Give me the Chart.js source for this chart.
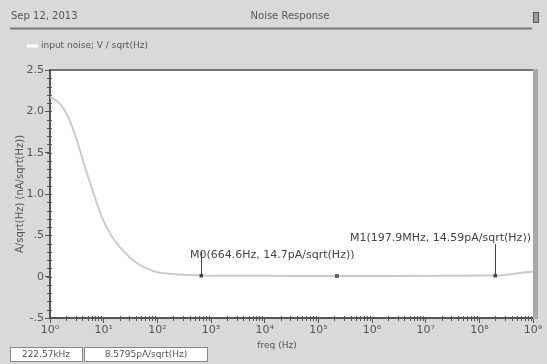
<!DOCTYPE html>
<html>
<head>
<meta charset="utf-8">
<script src="https://cdn.jsdelivr.net/npm/chart.js@4.4.1/dist/chart.umd.min.js"></script>
<style>
  html, body { margin: 0; padding: 0; background: #d9d9d9; }
  #wrap { width: 547px; height: 364px; }
</style>
</head>
<body>
<div id="wrap"><canvas id="myChart" width="547" height="364"></canvas></div>
<script>
// frequency (Hz) and input noise (nA/sqrt(Hz))
var freqHz = [1, 1.1, 1.55, 2.19, 3.16, 4.47, 6.46, 9.12, 14.1, 25.1, 38, 91, 138, 300, 664.6, 3000, 30000, 222570, 2e6, 2e7, 1e8, 1.979e8, 4e8, 1e9];
var noise = [2.17, 2.16, 2.09, 1.93, 1.65, 1.33, 1.01, 0.73, 0.49, 0.29, 0.18, 0.06, 0.04, 0.022, 0.0147, 0.011, 0.0093, 0.0086, 0.0092, 0.011, 0.013, 0.0146, 0.03, 0.064];

var xTicks = [1, 10, 100, 1e3, 1e4, 1e5, 1e6, 1e7, 1e8, 1e9];
var yTicks = [-0.5, 0, 0.5, 1.0, 1.5, 2.0, 2.5];

// markers: M0, M1 and the cursor point
var markerFreq = [664.6, 1.979e8];
var markerVal = [0.0147, 0.01459];
var markerText = ["M0(664.6Hz, 14.7pA/sqrt(Hz))", "M1(197.9MHz, 14.59pA/sqrt(Hz))"];
var cursorFreq = 222570;
var cursorVal = 0.0086;
var cursorText = ["222.57kHz", "8.5795pA/sqrt(Hz)"];

var sup = "⁰¹²³⁴⁵⁶⁷⁸⁹";
var FONT = "'DejaVu Sans', sans-serif";

var decorPlugin = {
  id: 'decor',
  beforeDraw: function(chart) {
    var c = chart.ctx;
    c.save();
    c.fillStyle = '#d9d9d9';
    c.fillRect(0, 0, chart.width, chart.height);
    var a = chart.chartArea;
    c.fillStyle = '#ffffff';
    c.fillRect(a.left, a.top, a.right - a.left, a.bottom - a.top);
    c.restore();
  },
  afterDraw: function(chart) {
    var c = chart.ctx;
    var a = chart.chartArea;
    var xs = chart.scales.x, ys = chart.scales.y;
    c.save();

    // header
    c.fillStyle = '#555';
    c.font = "10px " + FONT;
    c.textBaseline = 'middle';
    c.textAlign = 'left';
    c.fillText("Sep 12, 2013", 11, 16);
    c.textAlign = 'center';
    c.fillText("Noise Response", 290, 16);
    c.strokeStyle = '#777';
    c.lineWidth = 2;
    c.beginPath(); c.moveTo(10, 28.5); c.lineTo(532, 28.5); c.stroke();
    c.strokeStyle = '#555';
    c.lineWidth = 1;
    c.strokeRect(533.5, 12.5, 5, 10);
    c.fillStyle = '#999';
    c.fillRect(534, 13, 4, 9);

    // legend
    c.strokeStyle = '#ffffff';
    c.lineWidth = 3;
    c.beginPath(); c.moveTo(27, 46); c.lineTo(38, 46); c.stroke();
    c.fillStyle = '#555';
    c.font = "9px " + FONT;
    c.textAlign = 'left';
    c.fillText("input noise; V / sqrt(Hz)", 41, 46);

    // top border and right band of the plot
    c.strokeStyle = '#777';
    c.lineWidth = 2;
    c.beginPath(); c.moveTo(a.left, a.top); c.lineTo(a.right, a.top); c.stroke();
    c.fillStyle = '#a9a9a9';
    c.fillRect(a.right, a.top - 1, 5, a.bottom - a.top + 2);

    // minor ticks
    c.strokeStyle = '#555';
    c.lineWidth = 1;
    c.beginPath();
    for (var v = -0.5; v <= 2.5001; v += 0.1) {
      var py = Math.round(ys.getPixelForValue(v)) + 0.5;
      c.moveTo(a.left - 3, py); c.lineTo(a.left + 2, py);
    }
    for (var d = 0; d < 9; d++) {
      for (var m = 2; m <= 9; m++) {
        var px = Math.round(xs.getPixelForValue(m * Math.pow(10, d))) + 0.5;
        c.moveTo(px, a.bottom - 2); c.lineTo(px, a.bottom + 3);
      }
    }
    c.stroke();

    // x title
    c.fillStyle = '#555';
    c.font = "9px " + FONT;
    c.textAlign = 'center';
    c.fillText("freq (Hz)", 277, 346);

    // markers
    c.font = "11px " + FONT;
    c.textAlign = 'left';
    var lineTop = [252, 244];
    var textX = [190, 350];
    var textY = [255, 238];
    for (var i = 0; i < markerFreq.length; i++) {
      var mx = Math.round(xs.getPixelForValue(markerFreq[i])) + 0.5;
      var my = ys.getPixelForValue(markerVal[i]);
      c.strokeStyle = '#444';
      c.lineWidth = 1;
      c.beginPath(); c.moveTo(mx, my); c.lineTo(mx, lineTop[i]); c.stroke();
      c.fillStyle = '#444';
      c.fillRect(mx - 2, my - 1.5, 3.5, 3.5);
      c.fillText(markerText[i], textX[i], textY[i]);
    }
    var cx = xs.getPixelForValue(cursorFreq), cy = ys.getPixelForValue(cursorVal);
    c.fillStyle = '#666';
    c.fillRect(cx - 2, cy - 2, 4, 4);

    // cursor readout boxes
    c.fillStyle = '#ffffff';
    c.strokeStyle = '#888';
    c.lineWidth = 1;
    c.fillRect(10, 347, 73, 15); c.strokeRect(10.5, 347.5, 72, 14);
    c.fillRect(84, 347, 124, 15); c.strokeRect(84.5, 347.5, 123, 14);
    c.fillStyle = '#555';
    c.font = "9px " + FONT;
    c.textAlign = 'center';
    c.fillText(cursorText[0], 46, 355);
    c.fillText(cursorText[1], 146, 355);
    c.restore();
  }
};

function init() {
  var points = [];
  for (var i = 0; i < freqHz.length; i++) points.push({ x: freqHz[i], y: noise[i] });

  var ctx = document.getElementById('myChart').getContext('2d');
  var chart = new Chart(ctx, {
    type: 'line',
    data: {
      datasets: [{
        label: 'input noise; V / sqrt(Hz)',
        data: points,
        borderColor: '#cbcbcb',
        borderWidth: 2,
        pointRadius: 0,
        fill: false,
        cubicInterpolationMode: 'monotone'
      }]
    },
    options: {
      responsive: false,
      animation: false,
      layout: { padding: { top: 70, right: 14, left: 0, bottom: 0 } },
      plugins: { legend: { display: false }, tooltip: { enabled: false } },
      scales: {
        x: {
          type: 'logarithmic',
          min: 1,
          max: 1e9,
          afterBuildTicks: function(scale) {
            scale.ticks = xTicks.map(function(v) { return { value: v }; });
          },
          afterFit: function(scale) { scale.height = 46; },
          ticks: {
            color: '#555',
            font: { family: FONT, size: 11 },
            padding: 1,
            maxRotation: 0,
            autoSkip: false,
            callback: function(value) {
              var e = Math.round(Math.log10(value));
              return "10" + String(e).split('').map(function(ch) { return sup[+ch]; }).join('');
            }
          },
          grid: { drawOnChartArea: false, color: '#555', tickLength: 5 },
          border: { color: '#555', width: 2 }
        },
        y: {
          min: -0.5,
          max: 2.5,
          afterBuildTicks: function(scale) {
            scale.ticks = yTicks.map(function(v) { return { value: v }; });
          },
          afterFit: function(scale) { scale.width = 50; },
          ticks: {
            color: '#555',
            font: { family: FONT, size: 11 },
            padding: 1,
            callback: function(value) {
              if (value === 0) return "0";
              var s = value.toFixed(1);
              if (Math.abs(value) < 1) s = s.replace("0.", ".");
              return s;
            }
          },
          title: {
            display: true,
            text: 'A/sqrt(Hz) (nA/sqrt(Hz))',
            color: '#555',
            font: { family: FONT, size: 10 },
            padding: { top: 14, bottom: 14 }
          },
          grid: { drawOnChartArea: false, color: '#555', tickLength: 5 },
          border: { color: '#555', width: 2 }
        }
      }
    },
    plugins: [decorPlugin]
  });
}

init();
</script>
</body>
</html>
